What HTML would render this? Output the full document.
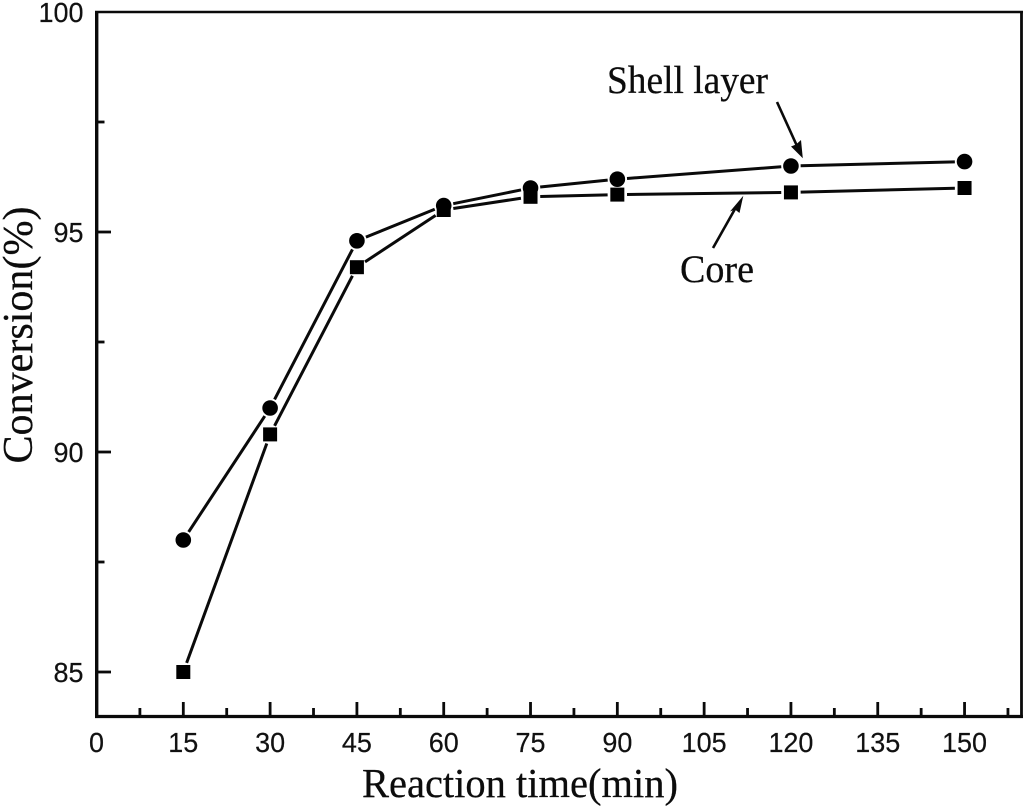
<!DOCTYPE html>
<html lang="en">
<head>
<meta charset="utf-8">
<title>Conversion vs reaction time</title>
<style>
  html, body { margin: 0; padding: 0; background: #fff; }
  svg { display: block; }
  .tick-label { font-family: "Liberation Sans", sans-serif; font-size: 28px; fill: #111; stroke: #111; stroke-width: 0.2; }
  .serif { font-family: "Liberation Serif", serif; fill: #0c0c0c; stroke: #0c0c0c; stroke-width: 0.25; }
</style>
</head>
<body>
<svg id="chart" xmlns="http://www.w3.org/2000/svg" width="1024" height="807" viewBox="0 0 1024 807">
  <g stroke="#0a0a0a" fill="none">
    <line x1="95" y1="12" x2="1023" y2="12" stroke-width="2.6"/>
    <line x1="1021.5" y1="11" x2="1021.5" y2="718" stroke-width="2.8"/>
    <line x1="95" y1="716.5" x2="1023" y2="716.5" stroke-width="3.2"/>
    <line x1="96.7" y1="11" x2="96.7" y2="718" stroke-width="3.4"/>
  </g>
  <g id="ticks"></g>
  <g id="series"></g>
  <text class="serif" x="362" y="797" font-size="41" textLength="316" lengthAdjust="spacingAndGlyphs">Reaction time(min)</text>
  <text class="serif" transform="translate(32,335) rotate(-90)" font-size="42" text-anchor="middle" textLength="257" lengthAdjust="spacingAndGlyphs">Conversion(%)</text>
  <text class="serif" x="607" y="93" font-size="39" textLength="161" lengthAdjust="spacingAndGlyphs">Shell layer</text>
  <text class="serif" x="680" y="282" font-size="39" textLength="74" lengthAdjust="spacingAndGlyphs">Core</text>
  <g>
    <line x1="777" y1="102" x2="797" y2="146" stroke="#0a0a0a" stroke-width="2.6"/>
    <polygon points="802.8,158.3 791,146.5 796,144.5 801,140" fill="#0a0a0a"/>
  </g>
  <g>
    <line x1="713" y1="248" x2="735" y2="209" stroke="#0a0a0a" stroke-width="2.6"/>
    <polygon points="743.3,195.7 739.5,213 735,209.5 730,211.5" fill="#0a0a0a"/>
  </g>
</svg>
<script>
const xTicksMajor = [0, 15, 30, 45, 60, 75, 90, 105, 120, 135, 150];
const xTicksMinor = [7.5, 22.5, 37.5, 52.5, 67.5, 82.5, 97.5, 112.5, 127.5, 142.5, 157.5];
const yTicksMajor = [85, 90, 95, 100];
const yTicksMinor = [87.5, 92.5, 97.5];
const times = [15, 30, 45, 60, 75, 90, 120, 150];
const shellLayer = [88, 91, 94.8, 95.6, 96, 96.2, 96.5, 96.6];
const core = [85, 90.4, 94.2, 95.5, 95.8, 95.85, 95.9, 96];

const NS = 'http://www.w3.org/2000/svg';
const xPos = v => 96.5 + v * 5.787;
const yPos = v => 672 - (v - 85) * 44;
const make = (tag, attrs, parent) => {
  const el = document.createElementNS(NS, tag);
  Object.keys(attrs).forEach(k => el.setAttribute(k, attrs[k]));
  parent.appendChild(el);
  return el;
};
const ticks = document.getElementById('ticks');
const seriesGroup = document.getElementById('series');
const tickStyle = { stroke: '#0a0a0a', 'stroke-width': 2.8 };

xTicksMajor.forEach(v => {
  if (v > 0) {
    const t = make('line', Object.assign({ x1: xPos(v), x2: xPos(v), y1: 702, y2: 716 }, tickStyle), ticks);
    
    
  }
  const label = make('text', { x: xPos(v), y: 752, 'text-anchor': 'middle', class: 'tick-label', textLength: String(v).length * 15, lengthAdjust: 'spacingAndGlyphs' }, ticks);
  label.textContent = v;
  
  
});
xTicksMinor.forEach(v => {
  const t = make('line', Object.assign({ x1: xPos(v), x2: xPos(v), y1: 708, y2: 716 }, tickStyle), ticks);
  
  
});
yTicksMajor.forEach(v => {
  if (v < 100) {
    const t = make('line', Object.assign({ x1: 97, x2: 111, y1: yPos(v), y2: yPos(v) }, tickStyle), ticks);
    
    
  }
  const label = make('text', { x: 83.5, y: yPos(v) + 10, 'text-anchor': 'end', class: 'tick-label', textLength: String(v).length * 15, lengthAdjust: 'spacingAndGlyphs' }, ticks);
  label.textContent = v;
  
  
});
yTicksMinor.forEach(v => {
  const t = make('line', Object.assign({ x1: 97, x2: 104.5, y1: yPos(v), y2: yPos(v) }, tickStyle), ticks);
  
  
});

function drawSeries(values, kind) {
  const gap = 9.7;
  const pts = values.map((v, i) => [xPos(times[i]), yPos(v)]);
  for (let i = 0; i < pts.length - 1; i++) {
    const dx = pts[i + 1][0] - pts[i][0];
    const dy = pts[i + 1][1] - pts[i][1];
    const len = Math.hypot(dx, dy);
    if (len <= gap * 2) continue;
    const ux = dx / len;
    const uy = dy / len;
    const seg = make('line', {
      x1: pts[i][0] + ux * gap, y1: pts[i][1] + uy * gap,
      x2: pts[i + 1][0] - ux * gap, y2: pts[i + 1][1] - uy * gap,
      stroke: '#0a0a0a', 'stroke-width': 3
    }, seriesGroup);
    
    
  }
  pts.forEach(p => {
    let m;
    if (kind === 'shell-layer') {
      m = make('circle', { cx: p[0], cy: p[1], r: 7.8, fill: '#000' }, seriesGroup);
    } else {
      m = make('rect', { x: p[0] - 7, y: p[1] - 7, width: 14, height: 14, fill: '#000' }, seriesGroup);
    }
    
    
  });
}
drawSeries(shellLayer, 'shell-layer');
drawSeries(core, 'core');
</script>
</body>
</html>
